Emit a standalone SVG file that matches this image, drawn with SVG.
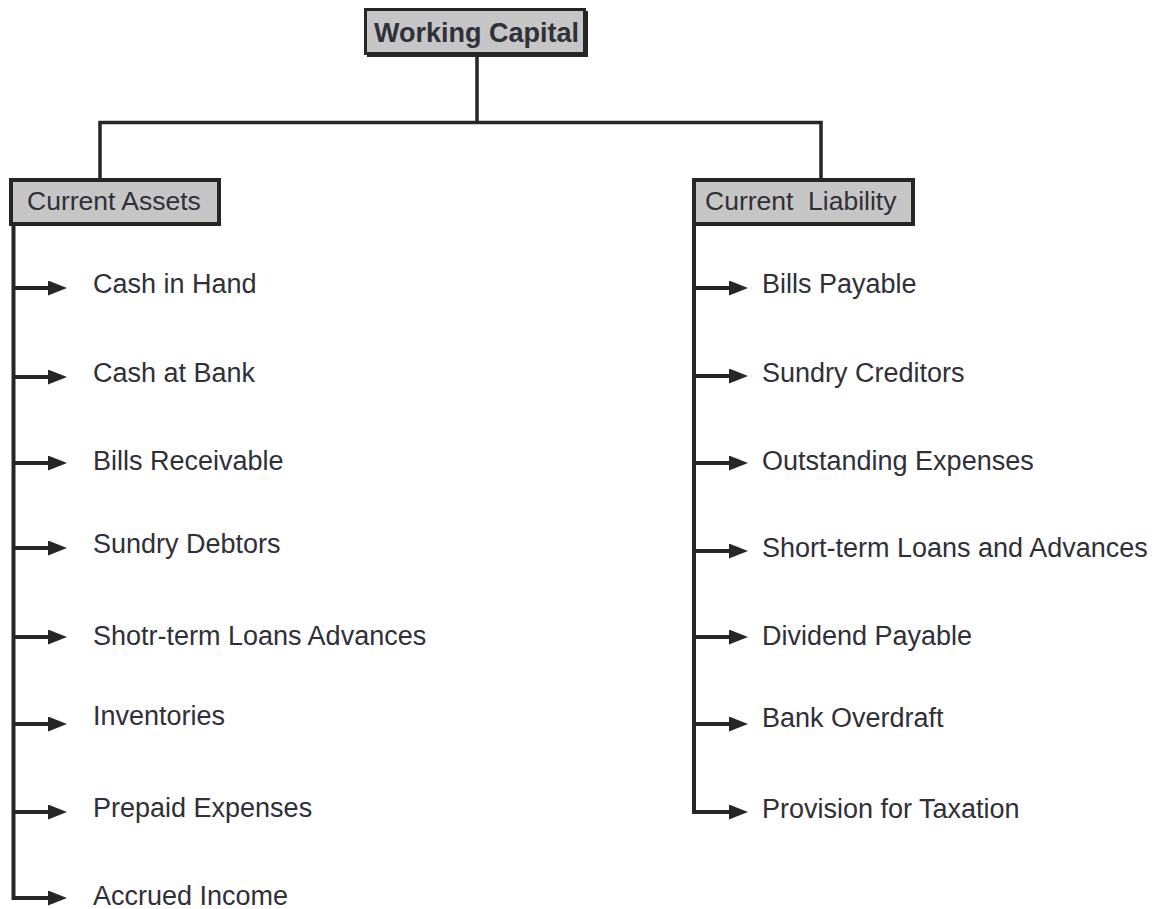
<svg xmlns="http://www.w3.org/2000/svg" width="1162" height="909" viewBox="0 0 1162 909">
<style>
.box{fill:#c6c6c6;stroke:#262626;stroke-width:4}
.shadow{fill:#262626}
.lbl{font-family:"Liberation Sans",Arial,sans-serif;font-size:27px;fill:#303038}
.hdr{font-family:"Liberation Sans",Arial,sans-serif;font-size:26.5px;fill:#303038;white-space:pre}
.title{font-family:"Liberation Sans",Arial,sans-serif;font-size:27px;font-weight:bold;fill:#303038}
.ln{fill:none;stroke:#262626;stroke-width:3.5;stroke-linejoin:miter;stroke-linecap:butt}
.arr{fill:none;stroke:#262626;stroke-width:4;marker-end:url(#ah)}
</style>
<defs>
<marker id="ah" viewBox="0 0 19 15" refX="0" refY="7.5" markerWidth="19" markerHeight="15" markerUnits="userSpaceOnUse" orient="auto">
<path d="M0,0 L19,7.5 L0,15 z" fill="#262626"/>
</marker>
</defs>
<rect width="1162" height="909" fill="#ffffff"/>
<g id="connectors">
<path class="ln" d="M477,56 V122.5 M100,180 V122.5 H821 V180"/>
<path class="ln" d="M13.5,224 V898 H48" style="stroke-width:4"/>
<path class="ln" d="M694,224 V812 H729" style="stroke-width:4"/>
<line class="arr" x1="13.5" y1="288" x2="48" y2="288"/>
<line class="arr" x1="13.5" y1="377" x2="48" y2="377"/>
<line class="arr" x1="13.5" y1="463" x2="48" y2="463"/>
<line class="arr" x1="13.5" y1="548" x2="48" y2="548"/>
<line class="arr" x1="13.5" y1="637" x2="48" y2="637"/>
<line class="arr" x1="13.5" y1="724" x2="48" y2="724"/>
<line class="arr" x1="13.5" y1="812" x2="48" y2="812"/>
<line class="arr" x1="13.5" y1="898" x2="48" y2="898"/>
<line class="arr" x1="694" y1="288" x2="729" y2="288"/>
<line class="arr" x1="694" y1="376" x2="729" y2="376"/>
<line class="arr" x1="694" y1="463" x2="729" y2="463"/>
<line class="arr" x1="694" y1="551" x2="729" y2="551"/>
<line class="arr" x1="694" y1="637" x2="729" y2="637"/>
<line class="arr" x1="694" y1="724" x2="729" y2="724"/>
<line class="arr" x1="694" y1="812" x2="729" y2="812"/>
</g>
<g id="working-capital">
<rect class="shadow" x="367" y="11" width="221" height="46"/>
<rect class="box" x="365.5" y="9.5" width="219" height="44" style="stroke-width:3"/>
<text class="title" x="374" y="42">Working Capital</text>
</g>
<g id="current-assets">
<rect class="box" x="11" y="180" width="208" height="44"/>
<text class="hdr" x="27" y="210">Current Assets</text>
</g>
<g id="current-liability">
<rect class="box" x="694" y="180" width="219" height="44"/>
<text class="hdr" x="705" y="210">Current  Liability</text>
</g>
<g id="assets-items">
<text id="cash-in-hand" class="lbl" x="93" y="293">Cash in Hand</text>
<text id="cash-at-bank" class="lbl" x="93" y="382">Cash at Bank</text>
<text id="bills-receivable" class="lbl" x="93" y="470">Bills Receivable</text>
<text id="sundry-debtors" class="lbl" x="93" y="553">Sundry Debtors</text>
<text id="short-term-loans-advances" class="lbl" x="93" y="645">Shotr-term Loans Advances</text>
<text id="inventories" class="lbl" x="93" y="725">Inventories</text>
<text id="prepaid-expenses" class="lbl" x="93" y="817">Prepaid Expenses</text>
<text id="accrued-income" class="lbl" x="93" y="905">Accrued Income</text>
</g>
<g id="liability-items">
<text id="bills-payable" class="lbl" x="762" y="293">Bills Payable</text>
<text id="sundry-creditors" class="lbl" x="762" y="382">Sundry Creditors</text>
<text id="outstanding-expenses" class="lbl" x="762" y="470">Outstanding Expenses</text>
<text id="short-term-loans-and-advances" class="lbl" x="762" y="557">Short-term Loans and Advances</text>
<text id="dividend-payable" class="lbl" x="762" y="645">Dividend Payable</text>
<text id="bank-overdraft" class="lbl" x="762" y="727">Bank Overdraft</text>
<text id="provision-for-taxation" class="lbl" x="762" y="818">Provision for Taxation</text>
</g>
</svg>
